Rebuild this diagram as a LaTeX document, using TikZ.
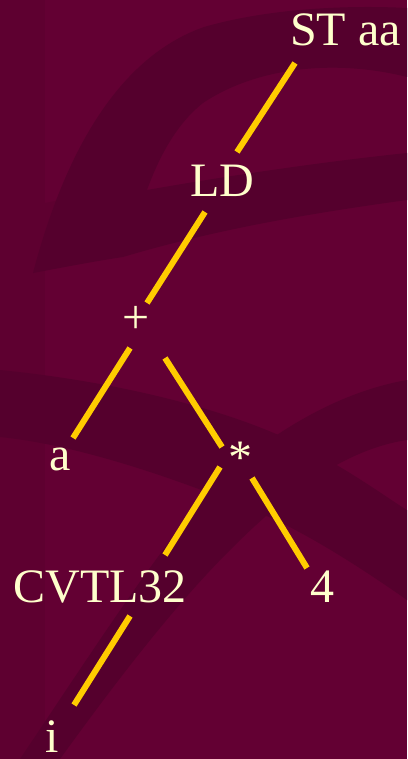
\documentclass[tikz,border=0pt]{standalone}
\usepackage{fontspec}
\setmainfont{Liberation Serif}
\definecolor{bgbase}{RGB}{99,0,51}
\definecolor{bgdark}{RGB}{85,0,45}
\definecolor{bgmid}{RGB}{94,0,48}
\definecolor{txt}{RGB}{255,255,204}
\definecolor{edge}{RGB}{255,204,0}
\begin{document}
\begin{tikzpicture}[x=0.75pt,y=-0.75pt,
  lbl/.style={text=txt,font=\fontsize{36}{40}\selectfont,inner sep=0pt,anchor=base},
  conn/.style={draw=edge,line width=4.5pt,line cap=butt}]
\useasboundingbox (0,0) rectangle (407,759);
\fill[bgbase] (0,0) rectangle (407,759);
% background swooshes
\fill[bgmid] (0,0) rectangle (45,759);
\fill[bgmid] (0,213) .. controls (20,208) and (40,204) .. (60,200) -- (33,273) .. controls (20,274) and (10,276) .. (0,277) -- cycle;
\fill[bgdark] (33,273) .. controls (60,170) and (110,60) .. (204,27) .. controls (270,8) and (350,5) .. (407,8)
  -- (407,77) .. controls (340,60) and (260,65) .. (203,103) .. controls (175,125) and (158,160) .. (147,190)
  .. controls (250,172) and (340,160) .. (407,153) -- (407,200) .. controls (320,212) and (220,228) .. (123,257)
  .. controls (90,262) and (60,268) .. (33,273) -- cycle;
\fill[bgdark] (0,370) .. controls (120,382) and (230,410) .. (300,445) .. controls (350,470) and (390,500) .. (407,510)
  -- (407,600) .. controls (350,560) and (300,530) .. (260,513) .. controls (180,480) and (80,445) .. (0,437) -- cycle;
\fill[bgdark] (20,759) .. controls (100,640) and (170,530) .. (230,470) .. controls (290,420) and (350,390) .. (407,380)
  -- (407,440) .. controls (340,450) and (280,500) .. (230,550) .. controls (170,610) and (110,690) .. (60,759) -- cycle;
% nodes
\node[lbl] (st) at (345.5,46) {ST aa};
\node[lbl] (ld) at (222.5,197) {LD};
\node[lbl] (plus) at (136,333) {+};
\node[lbl] (a) at (60,470) {a};
\node[lbl] (mul) at (240,473) {*};
\node[lbl] (cvt) at (100,602) {CVTL32};
\node[lbl] (four) at (322,602) {4};
\node[lbl] (i) at (52,752) {i};
% connector end points
\coordinate (st-s) at (295,63);
\coordinate (ld-n) at (237,152);
\coordinate (ld-s) at (205,212);
\coordinate (plus-n) at (147,303);
\coordinate (plus-sw) at (130,348);
\coordinate (a-n) at (73,438);
\coordinate (plus-se) at (165,358);
\coordinate (mul-nw) at (222,447);
\coordinate (mul-sw) at (220,467);
\coordinate (cvt-n) at (165,555);
\coordinate (mul-se) at (252,478);
\coordinate (four-n) at (307,568);
\coordinate (cvt-s) at (130,616);
\coordinate (i-n) at (74,705);
\draw[conn] (st-s) -- (ld-n);
\draw[conn] (ld-s) -- (plus-n);
\draw[conn] (plus-sw) -- (a-n);
\draw[conn] (plus-se) -- (mul-nw);
\draw[conn] (mul-sw) -- (cvt-n);
\draw[conn] (mul-se) -- (four-n);
\draw[conn] (cvt-s) -- (i-n);
\end{tikzpicture}
\end{document}
